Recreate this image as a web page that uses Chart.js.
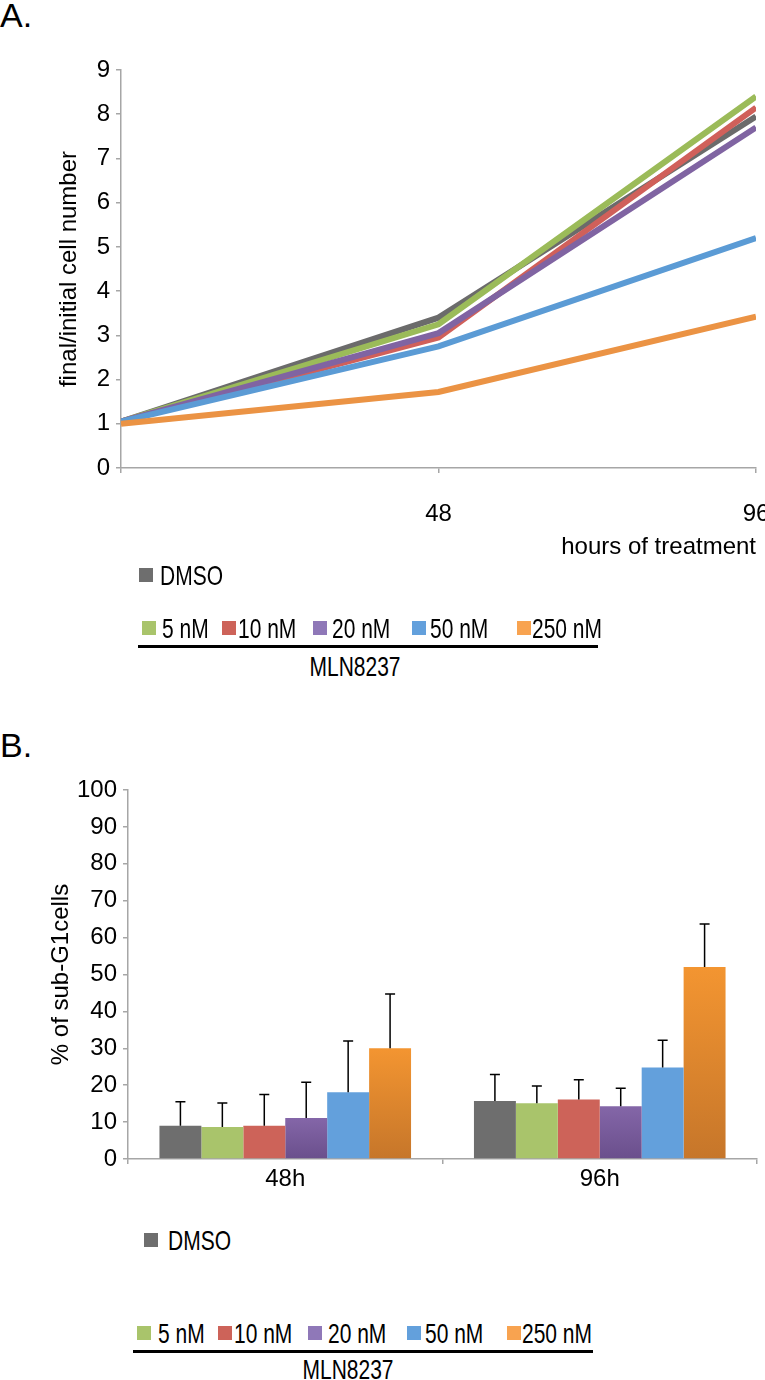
<!DOCTYPE html>
<html>
<head>
<meta charset="utf-8">
<title>MLN8237 proliferation and sub-G1</title>
<script src="https://cdn.jsdelivr.net/npm/chart.js@4.4.1/dist/chart.umd.min.js"></script>
<style>
  body { margin: 0; background: #fff; font-family: 'Liberation Sans', Arial, sans-serif; color: #000; }
  #page { position: relative; width: 765px; height: 1380px; overflow: hidden; }
  .panel { position: absolute; left: 0; font-size: 34px; line-height: 1; }
  canvas { position: absolute; left: 0; }
  .leg { position: absolute; font-size: 21px; line-height: 1; white-space: nowrap; transform: translateY(-50%) scaleY(1.3); }
  .sw { position: absolute; width: 14px; height: 14px; transform: translateY(-50%); }
  .rule { position: absolute; height: 3px; background: #000; }
</style>
</head>
<body>
<div id="page">
  <div class="panel" style="top:-2px">A.</div>
  <canvas id="chartA" width="765" height="580" style="top:0px"></canvas>
  <div class="panel" style="top:728px">B.</div>
  <canvas id="chartB" width="765" height="520" style="top:700px"></canvas>
</div>
<script>
// ---- data ----
const seriesNames = ['DMSO', '5 nM', '10 nM', '20 nM', '50 nM', '250 nM'];
const drugName = 'MLN8237';

// A: final/initial cell number at 0, 48, 96 h
const hours = [0, 48, 96];
const growthDMSO = [1.05, 3.40, 7.95];
const growth5 = [1.05, 3.25, 8.40];
const growth10 = [1.05, 2.95, 8.15];
const growth20 = [1.05, 3.05, 7.70];
const growth50 = [1.05, 2.75, 5.20];
const growth250 = [1.00, 1.72, 3.42];
const yMaxA = 9;

// B: % sub-G1 cells (mean, sd)
const timepoints = ['48h', '96h'];
const subDMSO = [9.0, 15.7];
const sub5 = [8.7, 15.1];
const sub10 = [9.0, 16.1];
const sub20 = [11.1, 14.3];
const sub50 = [18.1, 24.8];
const sub250 = [30.0, 52.0];
const sdDMSO = [6.5, 7.2];
const sd5 = [6.5, 4.7];
const sd10 = [8.5, 5.4];
const sd20 = [9.7, 4.9];
const sd50 = [13.9, 7.4];
const sd250 = [14.7, 11.7];
const yMaxB = 100;

// ---- styles ----
const FONT = "'Liberation Sans', Arial, sans-serif";
const axisGray = '#a6a6a6';
const lineColors = ['#6b6b6b', '#9bbb59', '#d0605a', '#8064a2', '#5b9bd5', '#eb9344'];
const barColors = ['#6e6e6e', '#a9c46b', '#cd6359', ['#8466a8', '#6a4f8c'], '#63a0dc', ['#f39531', '#c6762a']];
const swatchColors = ['#6e6e6e', '#a9c46b', '#cd6359', '#8f78b8', '#63a0dc', '#f8a350'];

Chart.defaults.font.family = FONT;
Chart.defaults.color = '#000';

const growth = [growthDMSO, growth5, growth10, growth20, growth50, growth250];
const subG1 = [subDMSO, sub5, sub10, sub20, sub50, sub250];
const sds = [sdDMSO, sd5, sd10, sd20, sd50, sd250];

function axisCommon() {
  return {
    grid: { drawOnChartArea: false, tickLength: 5, color: axisGray, lineWidth: 1.5 },
    border: { color: axisGray, width: 1.5 }
  };
}

// ---- chart A ----
new Chart(document.getElementById('chartA'), {
  type: 'line',
  data: {
    datasets: growth.map((s, i) => ({
      label: seriesNames[i],
      data: hours.map((h, j) => ({ x: h, y: s[j] })),
      borderColor: lineColors[i],
      borderWidth: 6,
      pointRadius: 0,
      tension: 0,
      order: growth.length - i
    }))
  },
  options: {
    responsive: false,
    animation: false,
    layout: { padding: { left: 55, top: 70, right: 9, bottom: 18 } },
    plugins: { legend: { display: false }, tooltip: { enabled: false } },
    scales: {
      x: {
        type: 'linear', min: 0, max: 96,
        afterBuildTicks: s => { s.ticks = hours.map(v => ({ value: v })); },
        ticks: { callback: v => v === 0 ? '' : v, font: { size: 24 }, padding: 27, maxRotation: 0 },
        title: { display: true, text: 'hours of treatment', align: 'end', font: { size: 24 }, padding: 0 },
        afterFit: s => { s.height = 94; s.paddingLeft = 0; s.paddingRight = 0; },
        ...axisCommon()
      },
      y: {
        min: 0, max: yMaxA,
        ticks: { stepSize: 1, font: { size: 24 }, padding: 6 },
        title: { display: true, text: 'final/initial cell number', font: { size: 24 }, padding: 0 },
        afterFit: s => { s.width = 66; },
        ...axisCommon()
      }
    }
  }
});

// ---- chart B ----
function barFill(i) {
  const c = barColors[i];
  if (!Array.isArray(c)) return c;
  return ctx => {
    const ys = ctx.chart.scales.y;
    if (ctx.type !== 'data' || !ys) return c[0];
    const top = ys.getPixelForValue(ctx.raw);
    const bot = ys.getPixelForValue(0);
    if (!isFinite(top) || !isFinite(bot) || top === bot) return c[0];
    const g = ctx.chart.ctx.createLinearGradient(0, top, 0, bot);
    g.addColorStop(0, c[0]);
    g.addColorStop(1, c[1]);
    return g;
  };
}

const errorBars = {
  id: 'errorBars',
  afterDatasetsDraw(chart) {
    const ctx = chart.ctx;
    const ys = chart.scales.y;
    ctx.save();
    ctx.strokeStyle = '#000';
    ctx.lineWidth = 1.5;
    chart.data.datasets.forEach((ds, i) => {
      chart.getDatasetMeta(i).data.forEach((bar, j) => {
        const yTop = ys.getPixelForValue(ds.data[j] + sds[i][j]);
        ctx.beginPath();
        ctx.moveTo(bar.x, bar.y);
        ctx.lineTo(bar.x, yTop);
        ctx.moveTo(bar.x - 5, yTop);
        ctx.lineTo(bar.x + 5, yTop);
        ctx.stroke();
      });
    });
    ctx.restore();
  }
};

new Chart(document.getElementById('chartB'), {
  type: 'bar',
  data: {
    labels: timepoints,
    datasets: subG1.map((s, i) => ({
      label: seriesNames[i],
      data: s,
      backgroundColor: barFill(i),
      borderWidth: 0,
      categoryPercentage: 0.8,
      barPercentage: 1.0
    }))
  },
  options: {
    responsive: false,
    animation: false,
    layout: { padding: { left: 47, top: 90, right: 8, bottom: 21 } },
    plugins: { legend: { display: false }, tooltip: { enabled: false } },
    scales: {
      x: {
        ticks: { font: { size: 24 }, padding: 1 },
        afterFit: s => { s.height = 40; s.paddingLeft = 0; s.paddingRight = 0; },
        ...axisCommon()
      },
      y: {
        min: 0, max: yMaxB,
        ticks: { stepSize: 10, font: { size: 24 }, padding: 6 },
        title: { display: true, text: '% of sub-G1cells', font: { size: 24 }, padding: 0 },
        afterFit: s => { s.width = 81; },
        ...axisCommon()
      }
    }
  },
  plugins: [errorBars]
});

// ---- legends (HTML) ----
function legend(cfg) {
  const page = document.getElementById('page');
  const add = (cls, style, text) => {
    const el = document.createElement('div');
    el.className = cls;
    Object.assign(el.style, style);
    if (text) el.textContent = text;
    page.appendChild(el);
  };
  seriesNames.forEach((name, i) => {
    const y = i === 0 ? cfg.firstY : cfg.rowY;
    add('sw', { left: cfg.sw[i] + 'px', top: y + 'px', background: swatchColors[i] });
    add('leg', { left: cfg.tx[i] + 'px', top: y + 'px' }, name);
  });
  add('rule', { left: cfg.rule[0] + 'px', width: (cfg.rule[1] - cfg.rule[0]) + 'px', top: (cfg.ruleY - 1) + 'px' });
  add('leg', { left: cfg.drugX + 'px', top: cfg.drugY + 'px', transform: 'translate(-50%, -50%) scaleY(1.3)' }, drugName);
}

legend({ firstY: 575, rowY: 628, ruleY: 646, drugY: 666, drugX: 355,
  sw: [139, 142, 222, 313, 412, 517], tx: [160, 162, 238, 332, 430, 532], rule: [138, 598] });
legend({ firstY: 1240, rowY: 1333, ruleY: 1351, drugY: 1369, drugX: 348,
  sw: [144, 137, 218, 308, 407, 507], tx: [168, 158, 234, 328, 425, 522], rule: [133, 593] });
</script>
</body>
</html>
